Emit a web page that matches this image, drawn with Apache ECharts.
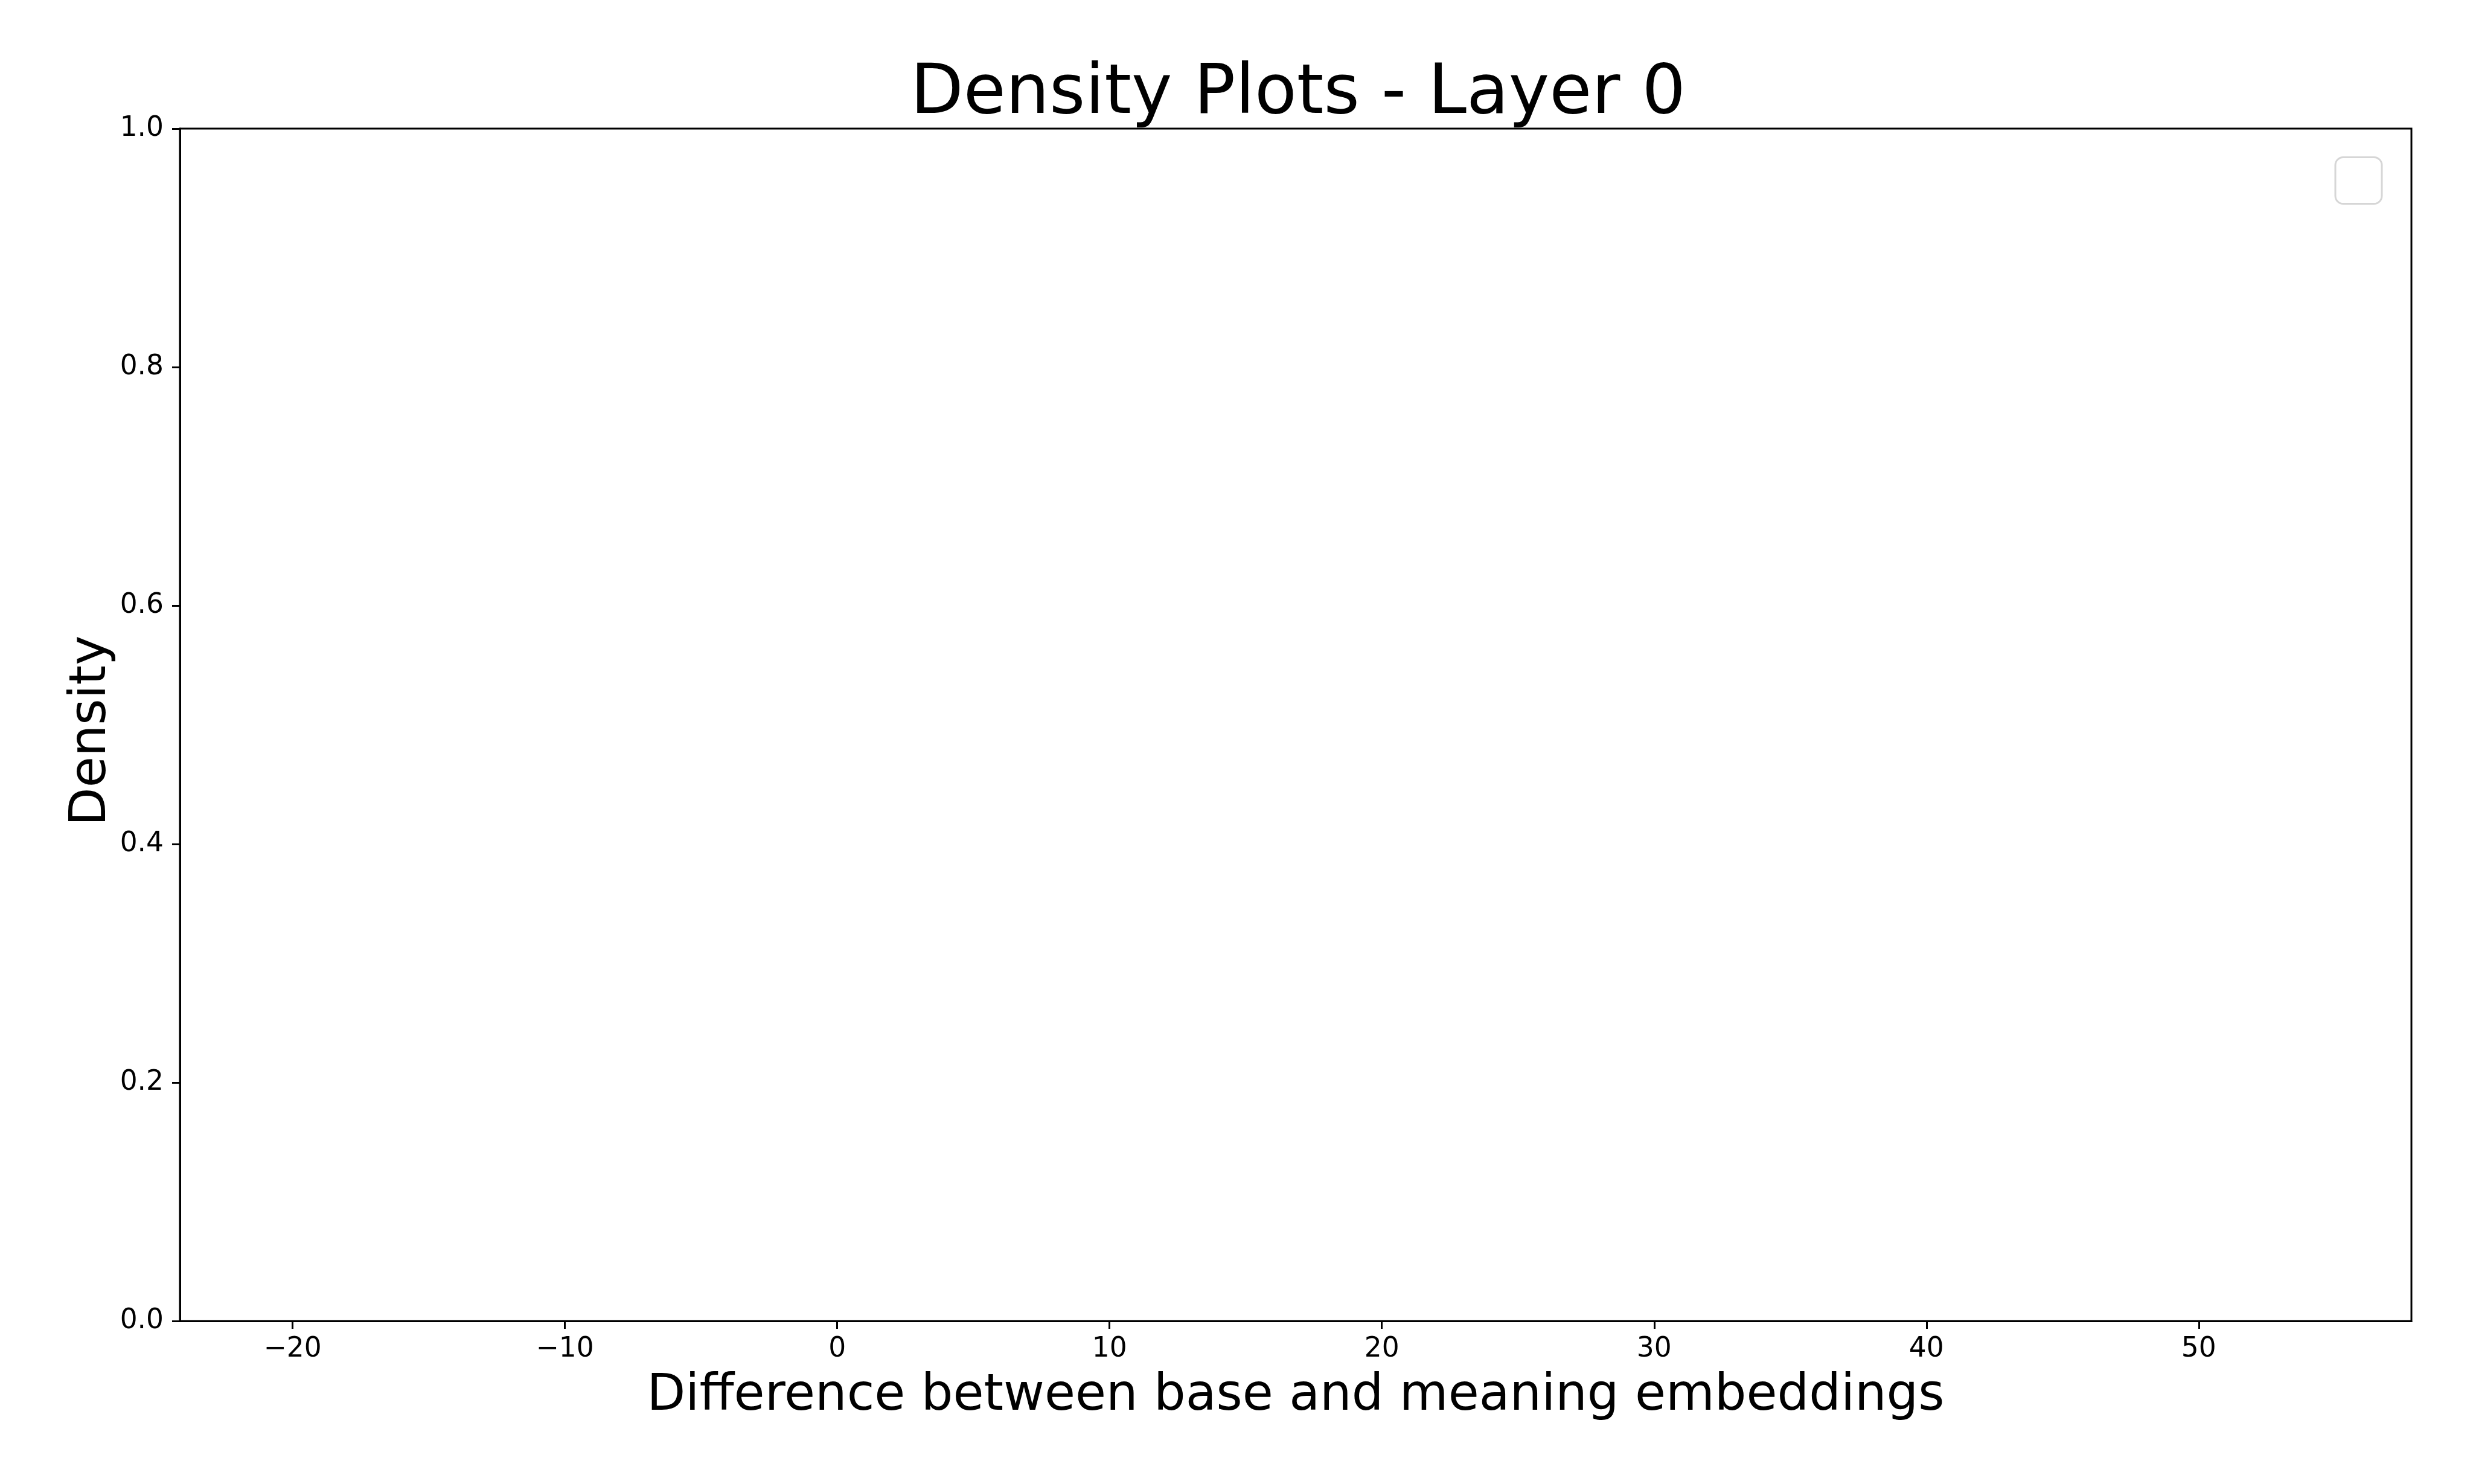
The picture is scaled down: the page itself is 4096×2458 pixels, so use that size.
<!DOCTYPE html>
<html>
<head>
<meta charset="utf-8">
<script src="https://cdn.jsdelivr.net/npm/echarts@6/dist/echarts.min.js"></script>
<style>
html,body{margin:0;padding:0;background:#fff;}
#chart{width:4096px;height:2458px;}
</style>
</head>
<body>
<div id="chart"></div>
<script>
const titleText = 'Density Plots - Layer 0';
const xAxisTitle = 'Difference between base and meaning embeddings';
const yAxisTitle = 'Density';
const xTicks = [-20, -10, 0, 10, 20, 30, 40, 50];
const xRange = [-24.14, 57.81];
const yRange = [0, 1];
const yStep = 0.2;
const seriesNames = [];
const seriesValues = [];

const FONT = 'DejaVu Sans';
const chart = echarts.init(document.getElementById('chart'), null, {renderer: 'canvas'});

const option = {
  backgroundColor: '#ffffff',
  animation: false,
  title: {
    text: titleText,
    left: 2150,
    top: 100,
    textAlign: 'center',
    padding: 0,
    textStyle: {fontFamily: FONT, fontSize: 114, fontWeight: 'normal', color: '#000'}
  },
  grid: {
    left: 298, right: 102, top: 213, bottom: 270,
    show: true, borderColor: '#000', borderWidth: 3, backgroundColor: 'transparent'
  },
  xAxis: {
    type: 'value',
    min: xRange[0], max: xRange[1],
    name: xAxisTitle,
    nameLocation: 'middle',
    nameGap: 84,
    nameTextStyle: {fontFamily: FONT, fontSize: 83, color: '#000'},
    axisLine: {show: true, onZero: false, lineStyle: {color: '#000', width: 3}},
    axisTick: {show: true, inside: false, length: 13, customValues: xTicks, lineStyle: {color: '#000', width: 3}},
    axisLabel: {
      show: true, margin: 24, customValues: xTicks,
      fontFamily: FONT, fontSize: 45.5, color: '#000',
      formatter: v => String(v).replace('-', '\u2212')
    },
    splitLine: {show: false}
  },
  yAxis: {
    type: 'value',
    min: yRange[0], max: yRange[1], interval: yStep,
    name: yAxisTitle,
    nameLocation: 'middle',
    nameGap: 104,
    nameMoveOverlap: false,
    nameRotate: 90,
    nameTextStyle: {fontFamily: FONT, fontSize: 83, color: '#000', padding: [0, 20, 0, 0]},
    axisLine: {show: true, onZero: false, lineStyle: {color: '#000', width: 3}},
    axisTick: {show: true, inside: false, length: 13, lineStyle: {color: '#000', width: 3}},
    axisLabel: {
      show: true, margin: 27,
      fontFamily: FONT, fontSize: 45.5, color: '#000',
      formatter: v => v.toFixed(1)
    },
    splitLine: {show: false}
  },
  graphic: [{
    type: 'rect',
    right: 149.5,
    top: 259,
    shape: {width: 77, height: 77, r: 13},
    style: {fill: '#fff', stroke: '#d6d6d6', lineWidth: 3}
  }],
  series: seriesNames.map((n, i) => ({
    type: 'line', name: n, data: seriesValues[i], showSymbol: false
  }))
};
chart.setOption(option);
</script>
</body>
</html>
